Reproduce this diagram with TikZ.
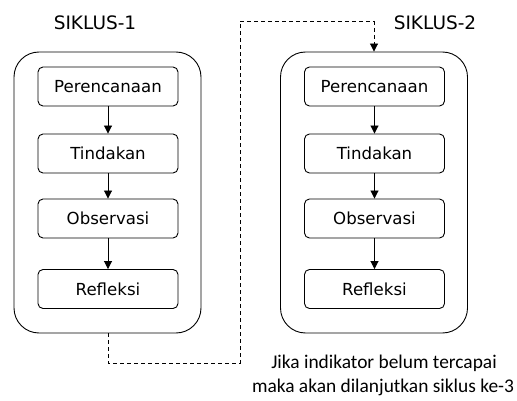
\documentclass[tikz,border=0pt]{standalone}
\usepackage{fontspec}
\setmainfont{DejaVu Sans}
\newfontfamily\calib{Carlito}
\usetikzlibrary{arrows.meta}
\begin{document}
\begin{tikzpicture}[x=1pt,y=-1pt,
  stepbox/.style={draw, rounded corners=5pt, minimum width=140pt, minimum height=39pt, inner sep=0pt, font=\fontsize{16.6}{18}\selectfont, line width=0.9pt},
  outerbox/.style={draw, rounded corners=25pt, minimum width=187pt, minimum height=281pt, inner sep=0pt, line width=0.9pt},
  flow/.style={-{Triangle[length=8pt,width=8pt]}, line width=0.9pt},
  dashlink/.style={line width=0.9pt, dash pattern=on 4pt off 3pt},
  title/.style={font=\fontsize{18.5}{20}\selectfont},
  note/.style={font=\calib\fontsize{19.4}{22}\selectfont}]
\useasboundingbox (0,0) rectangle (517,401);
\node[outerbox] (o1) at (107.5,192.5) {};
\node[outerbox] (o2) at (374,192.5) {};
\node[title] (t1) at (95,23) {SIKLUS-1};
\node[title] (t2) at (435,23) {SIKLUS-2};
\node[stepbox] (a1) at (108,86.5) {Perencanaan};
\node[stepbox] (b1) at (108,153.5) {Tindakan};
\node[stepbox] (c1) at (108,218.5) {Observasi};
\node[stepbox] (d1) at (108,289) {Refleksi};
\node[stepbox] (a2) at (374.5,86.5) {Perencanaan};
\node[stepbox] (b2) at (374.5,153.5) {Tindakan};
\node[stepbox] (c2) at (374.5,218.5) {Observasi};
\node[stepbox] (d2) at (374.5,289) {Refleksi};
\draw[flow] (a1) -- (b1);
\draw[flow] (b1) -- (c1);
\draw[flow] (c1) -- (d1);
\draw[flow] (a2) -- (b2);
\draw[flow] (b2) -- (c2);
\draw[flow] (c2) -- (d2);
\coordinate (p1) at (108,363);
\coordinate (p2) at (240,363);
\coordinate (p3) at (240,21);
\coordinate (p4) at (374,21);
\draw[dashlink] (o1.south -| p1) -- (p1) -- (p2) -- (p3) -- (p4);
\draw[dashlink, -{Triangle[length=8pt,width=8pt]}] (p4) -- (o2.north -| p4);
\node[note] (n1) at (384,363) {Jika indikator belum tercapai};
\node[note] (n2) at (383,387) {maka akan dilanjutkan siklus ke-3};
\end{tikzpicture}
\end{document}
